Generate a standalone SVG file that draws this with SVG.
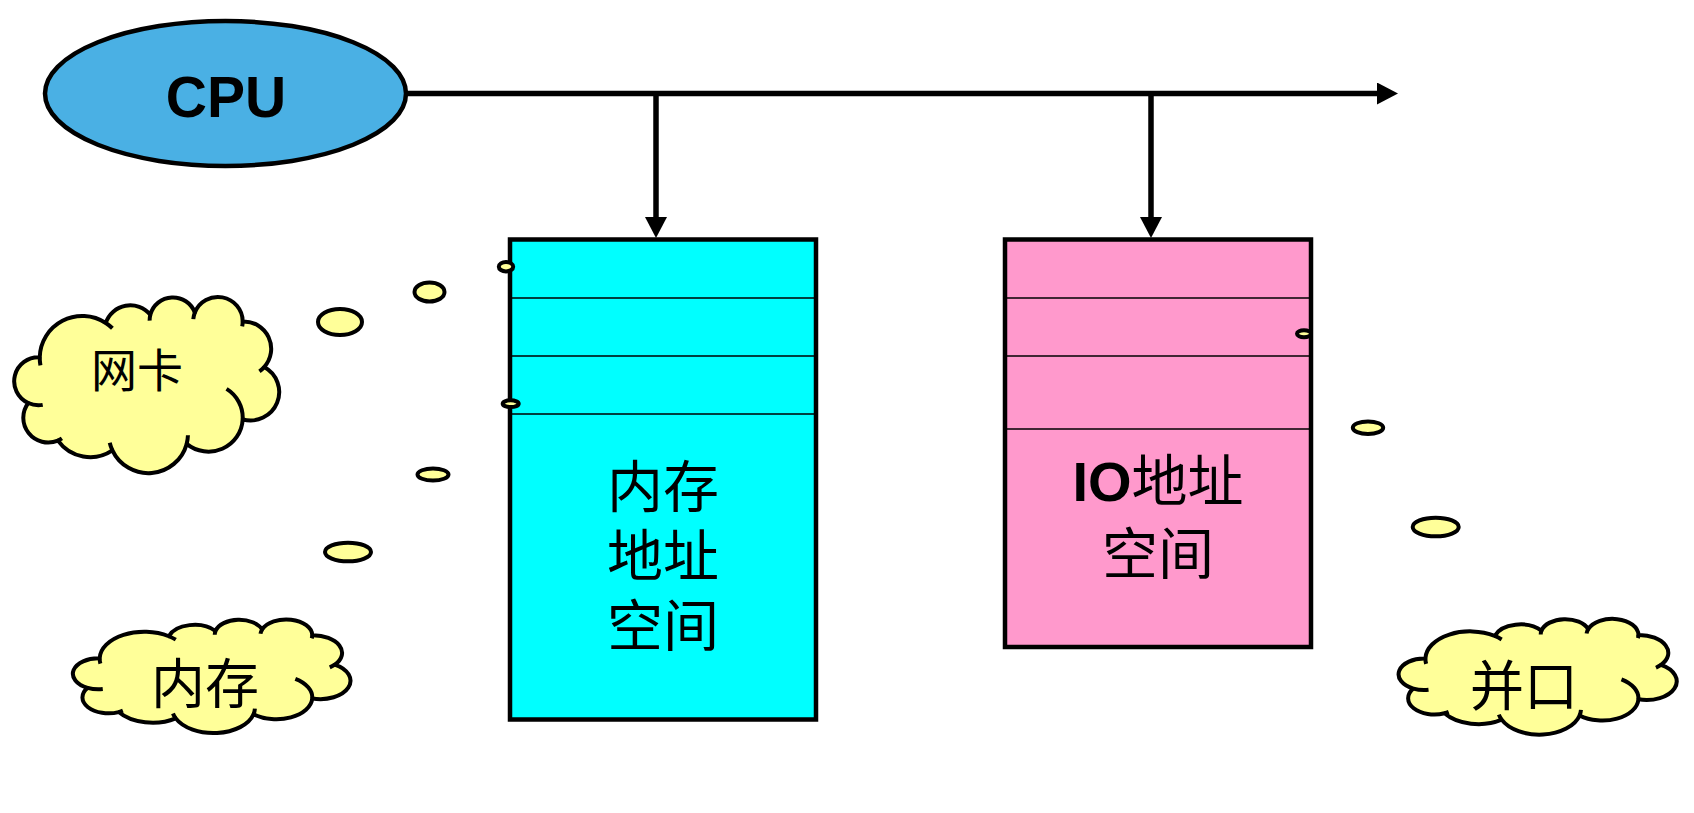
<svg xmlns="http://www.w3.org/2000/svg" xmlns:xlink="http://www.w3.org/1999/xlink" width="1694" height="813" viewBox="0 0 1694 813">
<style>
.edge{stroke:#000;stroke-width:5.5;fill:none}
.box{stroke:#000;stroke-width:4.5}
.div{stroke:#000;stroke-width:1.5}
.cloud{fill:#FFFF99;stroke:#000;stroke-width:4;vector-effect:non-scaling-stroke;stroke-linejoin:round}
.stub{fill:none;stroke:#000;stroke-width:4;vector-effect:non-scaling-stroke}
.bub{fill:#FFFF99;stroke:#000;stroke-width:4}
.cjk{font-family:"Noto Sans CJK SC","Noto Sans CJK TC",sans-serif;text-anchor:middle;fill:#000}
.lat{font-family:"Liberation Sans",Arial,sans-serif;font-weight:bold;fill:#000}
</style>
<defs>
<marker id="ah" markerUnits="userSpaceOnUse" markerWidth="22" markerHeight="22" viewBox="0 0 22 22" refX="0" refY="11" orient="auto">
<path d="M0 0 L21 11 L0 22 Z" fill="#000"/>
</marker>
<path id="cloudShape" class="cloud" d="M25.8 61.8 A43 43 0 0 1 92.5 26.8 A26 26 0 0 1 137.5 18.5 A23.6 23.6 0 0 1 182.5 16.2 A25 25 0 0 1 230.8 25.2 A28 28 0 0 1 252.5 71.8 A29 29 0 0 1 230.8 125.2 A34.6 34.6 0 0 1 174.2 150.2 A40 40 0 0 1 99.2 156.8 A40 40 0 0 1 44.2 146.8 A25.2 25.2 0 0 1 14.2 108.5 A24.5 24.5 0 0 1 25.8 61.8 Z"/>
<path id="cloudStubs" class="stub" d="M25.8 61.8 A43 43 0 0 0 26.5 70.1 M92.5 26.8 A43 43 0 0 1 99.2 32.2 M137.5 18.5 A23.6 23.6 0 0 0 136.8 24.4 M182.5 16.2 A25 25 0 0 0 180.9 22.9 M230.8 25.2 A25 25 0 0 1 230.3 30.3 M252.5 71.8 A28 28 0 0 1 247.7 76.1 M230.8 125.2 A34.6 34.6 0 0 0 214.5 94.1 M174.2 150.2 A40 40 0 0 0 175.5 141.4 M99.2 156.8 A40 40 0 0 1 96.5 149 M44.2 146.8 A25.2 25.2 0 0 0 48.2 144.6 M14.2 108.5 A24.5 24.5 0 0 0 28.8 110.4"/>
</defs>
<rect width="1694" height="813" fill="#fff"/>

<g id="connectors">
<path class="edge" d="M405 93.5 H1377" marker-end="url(#ah)"/>
<path class="edge" d="M656 93.5 V217" marker-end="url(#ah)"/>
<path class="edge" d="M1151 93.5 V217" marker-end="url(#ah)"/>
</g>

<g id="cpu">
<ellipse cx="225.5" cy="93.5" rx="180.5" ry="72.5" fill="#4AB0E4" stroke="#000" stroke-width="4.5"/>
<text class="lat" x="226" y="117" font-size="57" text-anchor="middle">CPU</text>
</g>

<g id="mem-space">
<rect class="box" x="510" y="239.5" width="306" height="480" fill="#00FFFF"/>
<line class="div" x1="512" y1="298" x2="814" y2="298"/>
<line class="div" x1="512" y1="356" x2="814" y2="356"/>
<line class="div" x1="512" y1="414" x2="814" y2="414"/>
<text class="cjk" font-size="56"><tspan x="663" y="507"><tspan>内存</tspan></tspan><tspan x="663" y="576"><tspan>地址</tspan></tspan><tspan x="663" y="646">空间</tspan></text>
<ellipse class="bub" cx="506" cy="266.7" rx="7.2" ry="4.7"/>
<ellipse class="bub" cx="510.7" cy="403.7" rx="8" ry="3.4"/>
</g>

<g id="io-space">
<rect class="box" x="1005" y="239.5" width="306" height="407.5" fill="#FF99CC"/>
<line class="div" x1="1007" y1="298" x2="1309" y2="298"/>
<line class="div" x1="1007" y1="356" x2="1309" y2="356"/>
<line class="div" x1="1007" y1="429" x2="1309" y2="429"/>
<text font-size="56" text-anchor="middle"><tspan x="1158" y="501"><tspan class="lat">IO</tspan><tspan font-family="Noto Sans CJK SC, sans-serif">地址</tspan></tspan><tspan x="1158" y="574" font-family="Noto Sans CJK SC, sans-serif">空间</tspan></text>
<ellipse class="bub" cx="1304" cy="333.8" rx="7" ry="3.5"/>
</g>

<g id="cloud-nic">
<g transform="translate(14.2,296.7) scale(0.99,0.98)">
<use xlink:href="#cloudShape"/>
<use xlink:href="#cloudStubs"/>
</g>
<text class="cjk" x="137" y="387" font-size="46">网卡</text>
</g>

<g id="cloud-mem">
<g transform="translate(72.9,619.3) scale(1.037,0.632)">
<use xlink:href="#cloudShape"/>
<use xlink:href="#cloudStubs"/>
</g>
<text class="cjk" x="205" y="703.5" font-size="54">内存</text>
</g>

<g id="cloud-par">
<g transform="translate(1398.6,618.7) scale(1.039,0.644)">
<use xlink:href="#cloudShape"/>
<use xlink:href="#cloudStubs"/>
</g>
<text class="cjk" x="1524" y="705.5" font-size="54">并口</text>
</g>

<g id="bubbles">
<ellipse class="bub" cx="340" cy="322" rx="22" ry="13"/>
<ellipse class="bub" cx="429.5" cy="292" rx="15" ry="9.5"/>
<ellipse class="bub" cx="433" cy="474.5" rx="15.5" ry="6"/>
<ellipse class="bub" cx="348" cy="552" rx="23" ry="9.3"/>
<ellipse class="bub" cx="1368" cy="427.7" rx="15.2" ry="6.3"/>
<ellipse class="bub" cx="1435.7" cy="527" rx="23" ry="9.3"/>
</g>
</svg>
